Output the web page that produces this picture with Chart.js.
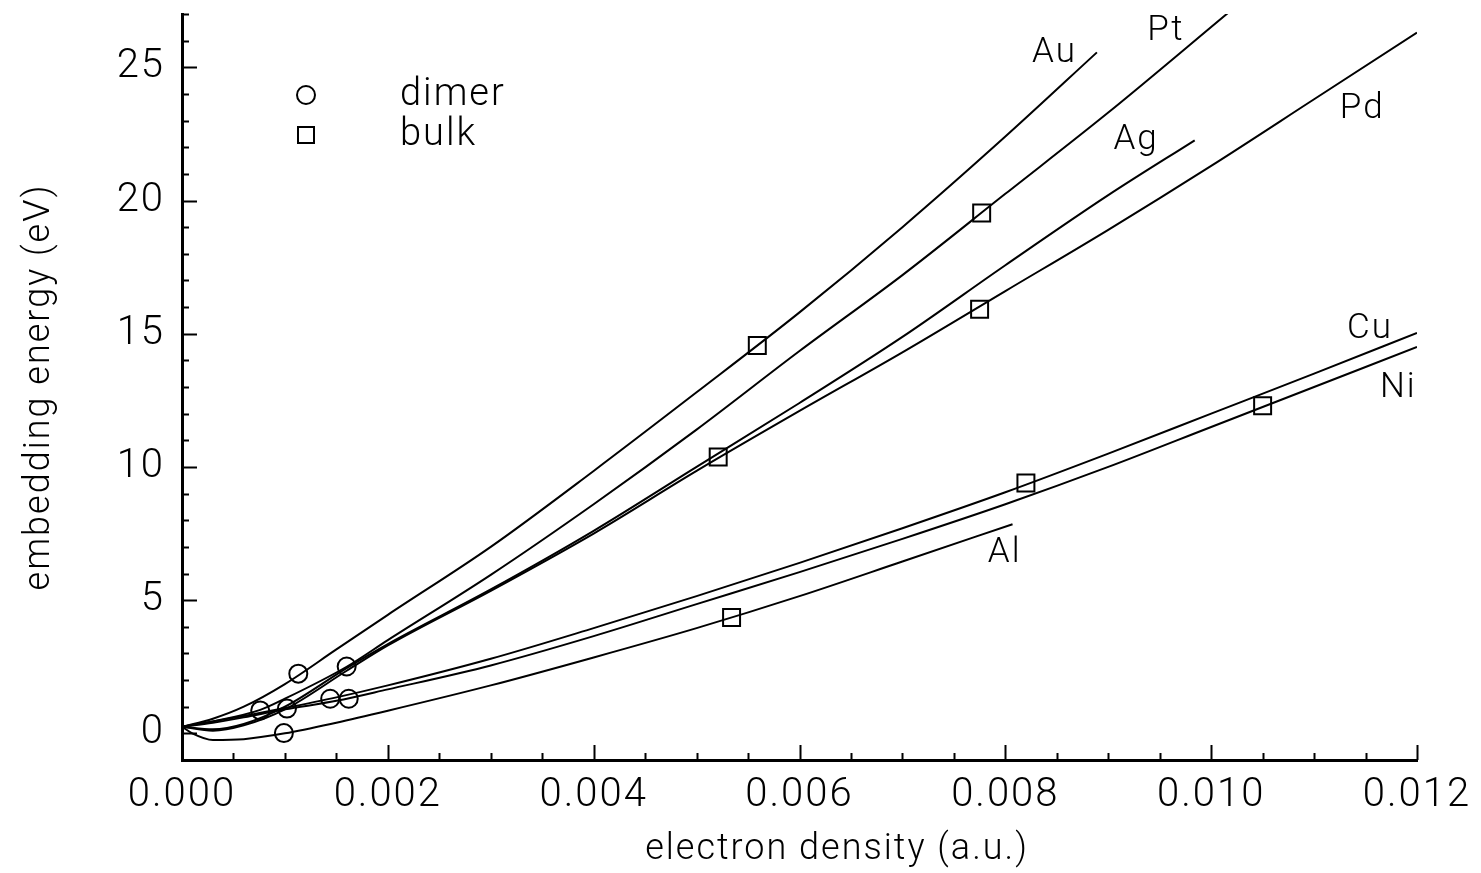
<!DOCTYPE html>
<html>
<head>
<meta charset="utf-8">
<title>Embedding energy</title>
<script src="https://cdn.jsdelivr.net/npm/chart.js@4.4.1/dist/chart.umd.min.js"></script>
<style>
    html, body { margin: 0; padding: 0; background: #fff; }
    #wrap { width: 1481px; height: 873px; }
</style>
</head>
<body>
<div id="wrap"><canvas id="embeddingChart"></canvas></div>
<script>
// tick labels
const xTicks = [0, 0.002, 0.004, 0.006, 0.008, 0.010, 0.012];
const yTicks = [0, 5, 10, 15, 20, 25];

// curves: electron density (a.u.) vs embedding energy (eV)
const auX = [0, 0.0003, 0.0006, 0.001, 0.0015, 0.002, 0.003, 0.004, 0.005, 0.006, 0.007, 0.008, 0.00889];
const auY = [0.25, 0.55, 1.0, 1.85, 3.15, 4.45, 7.0, 9.85, 12.8, 15.8, 19.0, 22.4, 25.56];

const ptX = [0, 0.0003, 0.00076, 0.001, 0.0016, 0.002, 0.003, 0.004, 0.005, 0.006, 0.007, 0.008, 0.009, 0.01017];
const ptY = [0.25, 0.45, 0.88, 1.3, 2.5, 3.5, 5.95, 8.6, 11.4, 14.35, 17.2, 20.25, 23.3, 27.06];

const agX = [0, 0.0003, 0.0006, 0.001, 0.0016, 0.002, 0.003, 0.004, 0.005, 0.006, 0.007, 0.008, 0.009, 0.00984];
const agY = [0.25, 0.15, 0.35, 1.0, 2.45, 3.35, 5.4, 7.6, 10.0, 12.4, 14.88, 17.57, 20.2, 22.26];

const pdX = [0, 0.0003, 0.0006, 0.001, 0.0016, 0.002, 0.003, 0.004, 0.005, 0.006, 0.007, 0.008, 0.009, 0.010, 0.011, 0.012];
const pdY = [0.25, 0.1, 0.3, 0.9, 2.35, 3.3, 5.35, 7.5, 9.85, 12.1, 14.3, 16.6, 18.9, 21.3, 23.8, 26.3];

const cuX = [0, 0.0003, 0.0006, 0.001, 0.0015, 0.002, 0.003, 0.004, 0.005, 0.006, 0.007, 0.008, 0.009, 0.010, 0.011, 0.012];
const cuY = [0.25, 0.45, 0.65, 0.95, 1.35, 1.8, 2.8, 3.95, 5.15, 6.4, 7.7, 9.05, 10.5, 12.0, 13.5, 15.03];

const niX = [0, 0.0003, 0.0006, 0.001, 0.0015, 0.002, 0.003, 0.004, 0.005, 0.006, 0.007, 0.008, 0.009, 0.010, 0.011, 0.012];
const niY = [0.25, 0.4, 0.6, 0.9, 1.22, 1.65, 2.55, 3.65, 4.85, 6.05, 7.3, 8.6, 10.0, 11.5, 13.0, 14.5];

const alX = [0, 0.0001, 0.0003, 0.0006, 0.001, 0.0015, 0.002, 0.003, 0.004, 0.005, 0.006, 0.007, 0.00807];
const alY = [0.25, 0.0, -0.25, -0.22, 0.0, 0.4, 0.85, 1.8, 2.85, 3.95, 5.15, 6.45, 7.85];

// dimer and bulk points
const dimerX = [0.00113, 0.0016, 0.00076, 0.00102, 0.00144, 0.00162, 0.00099];
const dimerY = [2.24, 2.51, 0.86, 0.93, 1.30, 1.30, 0.01];
const bulkX = [0.00559, 0.00777, 0.00775, 0.00521, 0.0082, 0.0105, 0.00534];
const bulkY = [14.56, 19.53, 15.92, 10.37, 9.40, 12.3, 4.35];

const metals = ['Au', 'Pt', 'Ag', 'Pd', 'Cu', 'Ni', 'Al'];

const FONT = "Roboto, 'Liberation Sans', sans-serif";

function toPoints(xs, ys) {
    return xs.map((x, i) => ({ x: x, y: ys[i] }));
}

function curve(label, xs, ys) {
    return {
        label: label,
        data: toPoints(xs, ys),
        showLine: true,
        borderColor: '#000',
        borderWidth: 2,
        pointRadius: 0,
        cubicInterpolationMode: 'monotone',
        fill: false
    };
}

// where the metal names sit (data coords, left/baseline of the text)
const curveLabelPos = {
    Au: [0.00826, 25.19], Pt: [0.00938, 26.01], Ag: [0.00905, 21.92], Pd: [0.01125, 23.09],
    Cu: [0.01132, 14.84], Ni: [0.01164, 12.61], Al: [0.00783, 6.42]
};

// drop the label overflow padding so the plot box stays where it is in the figure
function noEdgePadding(s) {
    s.paddingTop = 0;
    s.paddingBottom = 0;
    s.paddingLeft = 0;
    s.paddingRight = 0;
}

const decorations = {
    id: 'decorations',
    beforeDraw(chart) {
        chart.ctx.letterSpacing = '2px';
    },
    afterDraw(chart) {
        const { ctx, chartArea, scales: { x, y } } = chart;
        ctx.save();
        ctx.strokeStyle = '#000';
        ctx.fillStyle = '#000';
        ctx.lineWidth = 2;

        // inward ticks
        ctx.beginPath();
        for (let i = -1; i <= 27; i++) {
            const py = Math.round(y.getPixelForValue(i)) + 0.5;
            const len = i % 5 === 0 ? 15 : 7;
            ctx.moveTo(chartArea.left, py);
            ctx.lineTo(chartArea.left + len, py);
        }
        for (let i = 0; i <= 24; i++) {
            const px = Math.round(x.getPixelForValue(i * 0.0005)) + 0.5;
            const len = i % 4 === 0 ? 15 : 7;
            ctx.moveTo(px, chartArea.bottom);
            ctx.lineTo(px, chartArea.bottom - len);
        }
        ctx.stroke();

        // metal names
        ctx.font = '300 35px ' + FONT;
        ctx.textAlign = 'left';
        ctx.textBaseline = 'alphabetic';
        metals.forEach(m => {
            const p = curveLabelPos[m];
            ctx.fillText(m, x.getPixelForValue(p[0]), y.getPixelForValue(p[1]));
        });

        // legend
        const lx = chartArea.left + 124;
        ctx.lineWidth = 2;
        ctx.beginPath();
        ctx.arc(lx, 95, 9, 0, Math.PI * 2);
        ctx.stroke();
        ctx.strokeRect(lx - 8, 127, 16, 16);
        ctx.font = '300 38px ' + FONT;
        ctx.textBaseline = 'middle';
        ctx.fillText('dimer', chartArea.left + 218, 95);
        ctx.fillText('bulk', chartArea.left + 218, 135);

        // x axis title
        ctx.font = '300 36px ' + FONT;
        ctx.textAlign = 'center';
        ctx.fillText('electron density (a.u.)', 837, 850);
        ctx.restore();
    }
};

const ctx = document.getElementById('embeddingChart').getContext('2d');
new Chart(ctx, {
    type: 'scatter',
    data: {
        datasets: [
            curve('Au', auX, auY),
            curve('Pt', ptX, ptY),
            curve('Ag', agX, agY),
            curve('Pd', pdX, pdY),
            curve('Cu', cuX, cuY),
            curve('Ni', niX, niY),
            curve('Al', alX, alY),
            {
                label: 'dimer',
                data: toPoints(dimerX, dimerY),
                pointStyle: 'circle',
                pointRadius: 9,
                borderColor: '#000',
                borderWidth: 2,
                backgroundColor: 'rgba(0,0,0,0)'
            },
            {
                label: 'bulk',
                data: toPoints(bulkX, bulkY),
                pointStyle: 'rect',
                pointRadius: 12,
                borderColor: '#000',
                borderWidth: 2,
                backgroundColor: 'rgba(0,0,0,0)'
            }
        ]
    },
    options: {
        responsive: true,
        maintainAspectRatio: false,
        animation: false,
        layout: { padding: { top: 14, right: 64, left: 0, bottom: 0 } },
        plugins: {
            legend: { display: false },
            tooltip: { enabled: false }
        },
        scales: {
            x: {
                type: 'linear',
                min: 0,
                max: 0.012,
                afterBuildTicks: s => { s.ticks = xTicks.map(v => ({ value: v })); },
                afterFit: s => { s.height = 113; noEdgePadding(s); },
                grid: { display: false, drawTicks: false },
                border: { display: true, color: '#000', width: 3 },
                ticks: {
                    color: '#000',
                    font: { family: FONT, size: 40, weight: '300' },
                    padding: 12,
                    maxRotation: 0,
                    autoSkip: false,
                    callback: v => v.toFixed(3)
                }
            },
            y: {
                type: 'linear',
                min: -1,
                max: 27,
                afterBuildTicks: s => { s.ticks = yTicks.map(v => ({ value: v })); },
                afterFit: s => { s.width = 182; noEdgePadding(s); },
                grid: { display: false, drawTicks: false },
                border: { display: true, color: '#000', width: 3 },
                ticks: {
                    color: '#000',
                    font: { family: FONT, size: 40, weight: '300' },
                    padding: 17
                },
                title: {
                    display: true,
                    text: 'embedding energy (eV)',
                    color: '#000',
                    font: { family: FONT, size: 36, weight: '300' },
                    padding: { top: 18, bottom: 0 }
                }
            }
        }
    },
    plugins: [decorations]
});
</script>
</body>
</html>
